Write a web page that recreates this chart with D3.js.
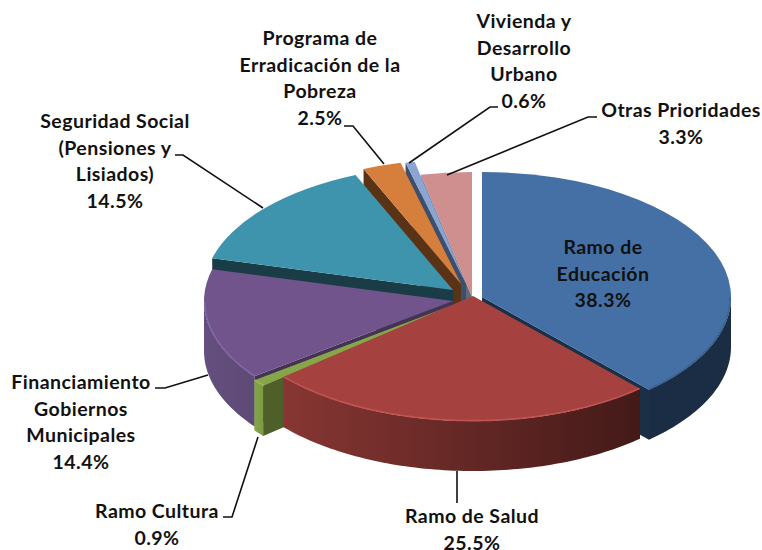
<!DOCTYPE html>
<html><head><meta charset="utf-8">
<script src="https://cdnjs.cloudflare.com/ajax/libs/d3/7.8.5/d3.min.js"></script>
<style>html,body{margin:0;padding:0;background:#fff}svg{display:block}
text{font-family:Lato,"Open Sans",sans-serif;font-weight:700;font-size:19.5px;letter-spacing:0.45px;fill:#111;text-anchor:middle}</style>
</head><body><svg id="c" width="762" height="550"></svg>
<script>
const categories = ["Ramo de Educación","Ramo de Salud","Ramo Cultura","Financiamiento Gobiernos Municipales","Seguridad Social (Pensiones y Lisiados)","Programa de Erradicación de la Pobreza","Vivienda y Desarrollo Urbano","Otras Prioridades"];
const values = [38.3,25.5,0.9,14.4,14.5,2.5,0.6,3.3];
const topColors = ["#4470a6","#a5413f","#87a64a","#70548b","#3e94ad","#d67f3c","#8aa5d3","#cf8f8f"];
const faceColors = ["#1b2f47","#451b19","#4f5f2a","#443354","#1a3c47","#5a3215","#3d4f6c","#5f6a78"];
const wallLeft = ["#1b2d44","#873633","#84a349","#644f7e","#1a3c47","#5a3215","#3d4f6c","#5f6a78"];
const wallRight = ["#1b2d44","#431a18","#7d9b45","#5e4a76","#1a3c47","#5a3215","#3d4f6c","#5f6a78"];
const rimColors = ["#3c638f","#c25553","#9ab85c","#8064a0","#3e94ad","#d67f3c","#8aa5d3","#cf8f8f"];
const apexX = [482,473,453,453,453,461,466,472];
const apexY = [297,296,305,301,290,284,284,297];
const drawOrder = [7,6,5,4,0,3,2,1];
const labelLines = [["Ramo de","Educación","38.3%"],["Ramo de Salud","25.5%"],["Ramo Cultura","0.9%"],["Financiamiento","Gobiernos","Municipales","14.4%"],["Seguridad Social","(Pensiones y","Lisiados)","14.5%"],["Programa de","Erradicación de la","Pobreza","2.5%"],["Vivienda y","Desarrollo","Urbano","0.6%"],["Otras Prioridades","3.3%"]];
const labelX = [603,472,157,81,115,320,524,681];
const labelY = [247,516,511,382,121,38,21,110];
const leaders = [null,[[457,503],[457,471]],[[223,517],[232,517],[258,437]],[[155,388],[165,388],[208,375]],[[175,155],[183,155],[263,208]],[[344,126],[353,126],[384,164]],[[498,107],[490,107],[409,163]],[[597,117],[588,117],[447,175]]];

const RX=249, RY=125, DEPTH=50, LINE=26.7;
const svg=d3.select("#c"), defs=svg.append("defs");
const pie=d3.pie().sort(null).value(d=>d).startAngle(0).endAngle(2*Math.PI);
const arcs=pie(values);
const arc=d3.arc().innerRadius(0).outerRadius(RX);
const pt=(i,a,r,dz=0)=>[apexX[i]+r*RX*Math.sin(a), apexY[i]-r*RY*Math.cos(a)+dz];
const line=d3.line();
const samples=(a0,a1)=>{const n=Math.max(2,Math.ceil((a1-a0)/0.02));return d3.range(n+1).map(k=>a0+(a1-a0)*k/n)};

drawOrder.forEach(i=>{
  const s=arcs[i], g=svg.append("g"), a0=s.startAngle, a1=s.endAngle;
  if(Math.sin(a0)<0) g.append("path").attr("fill",faceColors[i]).attr("d",line([pt(i,a0,0),pt(i,a0,1),pt(i,a0,1,DEPTH),pt(i,a0,0,DEPTH)])+"Z");
  if(Math.sin(a1)>0) g.append("path").attr("fill",faceColors[i]).attr("d",line([pt(i,a1,0),pt(i,a1,1),pt(i,a1,1,DEPTH),pt(i,a1,0,DEPTH)])+"Z");
  const lo=Math.max(a0,Math.PI/2), hi=Math.min(a1,3*Math.PI/2);
  let front=null;
  if(lo<hi){
    front=samples(lo,hi);
    const x0=pt(i,lo,1)[0], x1=pt(i,hi,1)[0];
    const id="w"+i, gr=defs.append("linearGradient").attr("id",id).attr("gradientUnits","userSpaceOnUse")
      .attr("x1",Math.min(x0,x1)).attr("x2",Math.max(x0,x1)).attr("y1",0).attr("y2",0);
    gr.append("stop").attr("offset",0).attr("stop-color",wallLeft[i]);
    gr.append("stop").attr("offset",1).attr("stop-color",wallRight[i]);
    g.append("path").attr("fill",`url(#${id})`)
      .attr("d",line(front.map(a=>pt(i,a,1)).concat(front.slice().reverse().map(a=>pt(i,a,1,DEPTH))))+"Z");
  }
  g.append("path").attr("fill",topColors[i])
    .attr("transform",`translate(${apexX[i]},${apexY[i]}) scale(1,${RY/RX})`)
    .attr("d",arc(s));
  if(front) g.append("path").attr("fill","none").attr("stroke",rimColors[i]).attr("stroke-width",1.6)
    .attr("d",line(front.map(a=>pt(i,a,0.997))));
});

const lead=svg.append("g").attr("fill","none").attr("stroke","#111").attr("stroke-width",1.6);
leaders.forEach(p=>{if(p) lead.append("path").attr("d",line(p));});

labelLines.forEach((ls,i)=>{
  const t=svg.append("text").attr("x",labelX[i]).attr("y",labelY[i]);
  ls.forEach((l,j)=>t.append("tspan").attr("x",labelX[i]).attr("y",labelY[i]+j*LINE).attr("dy","0.35em").text(l));
});
</script></body></html>
